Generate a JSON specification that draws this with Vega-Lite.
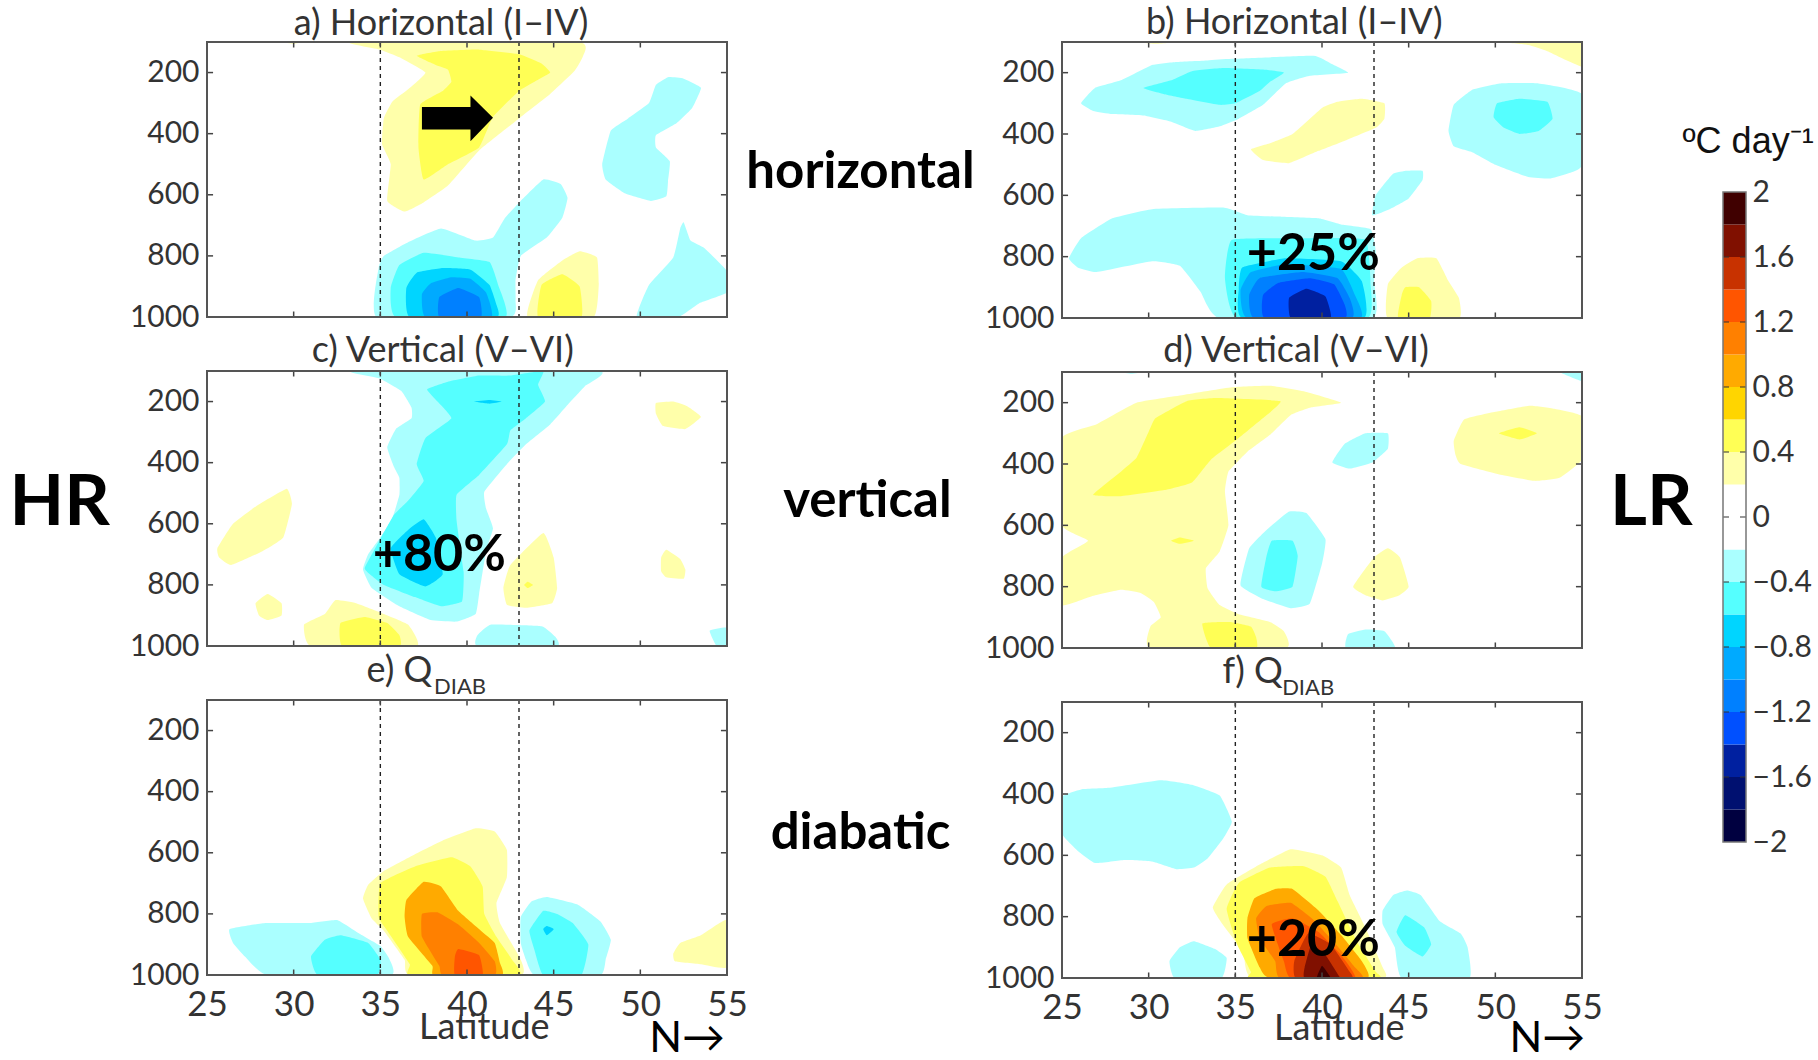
{"$schema":"https://vega.github.io/schema/vega-lite/v6.json","padding":0,"background":"white",
"config":{"view":{"stroke":null},"axis":{"domain":false,"ticks":false,"grid":false,"labelFont":"Lato","labelColor":"#333","labelFontSize":30,"labelPadding":8},"text":{"font":"Lato"}},
"datasets":{
"ticks":[{"lat":25,"lat2":25.35,"p":200,"p2":200},{"lat":25,"lat2":25.35,"p":400,"p2":400},{"lat":25,"lat2":25.35,"p":600,"p2":600},{"lat":25,"lat2":25.35,"p":800,"p2":800},{"lat":55,"lat2":54.65,"p":200,"p2":200},{"lat":55,"lat2":54.65,"p":400,"p2":400},{"lat":55,"lat2":54.65,"p":600,"p2":600},{"lat":55,"lat2":54.65,"p":800,"p2":800},{"lat":30,"lat2":30,"p":100,"p2":118},{"lat":35,"lat2":35,"p":100,"p2":118},{"lat":40,"lat2":40,"p":100,"p2":118},{"lat":45,"lat2":45,"p":100,"p2":118},{"lat":50,"lat2":50,"p":100,"p2":118},{"lat":30,"lat2":30,"p":1000,"p2":982},{"lat":35,"lat2":35,"p":1000,"p2":982},{"lat":40,"lat2":40,"p":1000,"p2":982},{"lat":45,"lat2":45,"p":1000,"p2":982},{"lat":50,"lat2":50,"p":1000,"p2":982}],
"dash":[{"lat":35,"lat2":35,"p":100,"p2":1000},{"lat":43,"lat2":43,"p":100,"p2":1000}],
"box":[{"lat":25,"lat2":55,"p":100,"p2":1000}],
"bar":[{"v":-1.8,"lo":-2,"hi":-1.8},{"v":-1.6,"lo":-1.8,"hi":-1.6},{"v":-1.4,"lo":-1.6,"hi":-1.4},{"v":-1.2,"lo":-1.4,"hi":-1.2},{"v":-1,"lo":-1.2,"hi":-1},{"v":-0.8,"lo":-1,"hi":-0.8},{"v":-0.6,"lo":-0.8,"hi":-0.6},{"v":-0.4,"lo":-0.6,"hi":-0.4},{"v":-0.2,"lo":-0.4,"hi":-0.2},{"v":0,"lo":-0.2,"hi":0.2},{"v":0.2,"lo":0.2,"hi":0.4},{"v":0.4,"lo":0.4,"hi":0.6},{"v":0.6,"lo":0.6,"hi":0.8},{"v":0.8,"lo":0.8,"hi":1},{"v":1,"lo":1,"hi":1.2},{"v":1.2,"lo":1.2,"hi":1.4},{"v":1.4,"lo":1.4,"hi":1.6},{"v":1.6,"lo":1.6,"hi":1.8},{"v":1.8,"lo":1.8,"hi":2}],
"bart":[{"t":-1.6},{"t":-1.2},{"t":-0.8},{"t":-0.4},{"t":0},{"t":0.4},{"t":0.8},{"t":1.2},{"t":1.6}],
"arrow":[{"lat":37.4,"p":313},{"lat":40.2,"p":313},{"lat":40.2,"p":275},{"lat":41.5,"p":348},{"lat":40.2,"p":425},{"lat":40.2,"p":386},{"lat":37.4,"p":386}],
"a":[
{"g":"a0","v":0.2,"lat":29.3,"p":100},{"g":"a0","v":0.2,"lat":30,"p":106},{"g":"a0","v":0.2,"lat":30.5,"p":100},
{"g":"a1","v":0.2,"lat":33.3,"p":100},{"g":"a1","v":0.2,"lat":35,"p":125},{"g":"a1","v":0.2,"lat":36.1,"p":150},{"g":"a1","v":0.2,"lat":37.6,"p":200},{"g":"a1","v":0.2,"lat":36.6,"p":255},{"g":"a1","v":0.2,"lat":35.7,"p":295},{"g":"a1","v":0.2,"lat":35.2,"p":350},{"g":"a1","v":0.2,"lat":35.1,"p":435},{"g":"a1","v":0.2,"lat":35.6,"p":500},{"g":"a1","v":0.2,"lat":35.4,"p":620},{"g":"a1","v":0.2,"lat":36.4,"p":655},{"g":"a1","v":0.2,"lat":37.5,"p":625},{"g":"a1","v":0.2,"lat":38.9,"p":570},{"g":"a1","v":0.2,"lat":40.7,"p":455},{"g":"a1","v":0.2,"lat":43,"p":350},{"g":"a1","v":0.2,"lat":44.8,"p":270},{"g":"a1","v":0.2,"lat":46.2,"p":195},{"g":"a1","v":0.2,"lat":46.7,"p":145},{"g":"a1","v":0.2,"lat":46.4,"p":100},
{"g":"a2","v":0.4,"lat":37.1,"p":145},{"g":"a2","v":0.4,"lat":38.4,"p":130},{"g":"a2","v":0.4,"lat":40.7,"p":125},{"g":"a2","v":0.4,"lat":43,"p":140},{"g":"a2","v":0.4,"lat":44.3,"p":170},{"g":"a2","v":0.4,"lat":44.8,"p":200},{"g":"a2","v":0.4,"lat":43.9,"p":230},{"g":"a2","v":0.4,"lat":43,"p":260},{"g":"a2","v":0.4,"lat":41.5,"p":345},{"g":"a2","v":0.4,"lat":40.7,"p":445},{"g":"a2","v":0.4,"lat":38.9,"p":500},{"g":"a2","v":0.4,"lat":37.5,"p":550},{"g":"a2","v":0.4,"lat":37.2,"p":445},{"g":"a2","v":0.4,"lat":37.3,"p":305},{"g":"a2","v":0.4,"lat":38.6,"p":260},{"g":"a2","v":0.4,"lat":39.1,"p":230},{"g":"a2","v":0.4,"lat":38.9,"p":190},{"g":"a2","v":0.4,"lat":38.2,"p":175},
{"g":"a3","v":-0.2,"lat":34.8,"p":1000},{"g":"a3","v":-0.2,"lat":34.9,"p":840},{"g":"a3","v":-0.2,"lat":35.2,"p":800},{"g":"a3","v":-0.2,"lat":36.6,"p":755},{"g":"a3","v":-0.2,"lat":38.5,"p":710},{"g":"a3","v":-0.2,"lat":40.5,"p":750},{"g":"a3","v":-0.2,"lat":41.5,"p":740},{"g":"a3","v":-0.2,"lat":42.2,"p":675},{"g":"a3","v":-0.2,"lat":43.1,"p":620},{"g":"a3","v":-0.2,"lat":44.4,"p":550},{"g":"a3","v":-0.2,"lat":45.4,"p":565},{"g":"a3","v":-0.2,"lat":45.8,"p":610},{"g":"a3","v":-0.2,"lat":45.5,"p":675},{"g":"a3","v":-0.2,"lat":44.6,"p":740},{"g":"a3","v":-0.2,"lat":43.1,"p":800},{"g":"a3","v":-0.2,"lat":42.8,"p":880},{"g":"a3","v":-0.2,"lat":42.8,"p":945},{"g":"a3","v":-0.2,"lat":42.5,"p":1000},
{"g":"a4","v":-0.4,"lat":35.9,"p":1000},{"g":"a4","v":-0.4,"lat":35.6,"p":905},{"g":"a4","v":-0.4,"lat":36.1,"p":830},{"g":"a4","v":-0.4,"lat":37.5,"p":790},{"g":"a4","v":-0.4,"lat":39.5,"p":805},{"g":"a4","v":-0.4,"lat":41.3,"p":820},{"g":"a4","v":-0.4,"lat":41.8,"p":895},{"g":"a4","v":-0.4,"lat":42.2,"p":1000},
{"g":"a5","v":-0.6,"lat":36.7,"p":1000},{"g":"a5","v":-0.6,"lat":36.5,"p":905},{"g":"a5","v":-0.6,"lat":37.1,"p":855},{"g":"a5","v":-0.6,"lat":38.6,"p":840},{"g":"a5","v":-0.6,"lat":40.2,"p":845},{"g":"a5","v":-0.6,"lat":41.3,"p":895},{"g":"a5","v":-0.6,"lat":41.7,"p":960},{"g":"a5","v":-0.6,"lat":41.7,"p":1000},
{"g":"a6","v":-0.8,"lat":37.6,"p":1000},{"g":"a6","v":-0.8,"lat":37.4,"p":925},{"g":"a6","v":-0.8,"lat":37.9,"p":890},{"g":"a6","v":-0.8,"lat":39.1,"p":870},{"g":"a6","v":-0.8,"lat":40.2,"p":875},{"g":"a6","v":-0.8,"lat":41.1,"p":920},{"g":"a6","v":-0.8,"lat":41.4,"p":1000},
{"g":"a7","v":-1,"lat":38.4,"p":1000},{"g":"a7","v":-1,"lat":38.4,"p":935},{"g":"a7","v":-1,"lat":39.5,"p":905},{"g":"a7","v":-1,"lat":40.7,"p":935},{"g":"a7","v":-1,"lat":40.8,"p":1000},
{"g":"a8","v":-0.2,"lat":51.6,"p":215},{"g":"a8","v":-0.2,"lat":52.5,"p":220},{"g":"a8","v":-0.2,"lat":53.5,"p":250},{"g":"a8","v":-0.2,"lat":53,"p":315},{"g":"a8","v":-0.2,"lat":52.1,"p":365},{"g":"a8","v":-0.2,"lat":50.9,"p":405},{"g":"a8","v":-0.2,"lat":50.9,"p":445},{"g":"a8","v":-0.2,"lat":51.7,"p":490},{"g":"a8","v":-0.2,"lat":51.6,"p":555},{"g":"a8","v":-0.2,"lat":51.5,"p":605},{"g":"a8","v":-0.2,"lat":50.6,"p":620},{"g":"a8","v":-0.2,"lat":49.1,"p":595},{"g":"a8","v":-0.2,"lat":48,"p":550},{"g":"a8","v":-0.2,"lat":47.8,"p":500},{"g":"a8","v":-0.2,"lat":48.3,"p":390},{"g":"a8","v":-0.2,"lat":49.3,"p":350},{"g":"a8","v":-0.2,"lat":50.5,"p":300},{"g":"a8","v":-0.2,"lat":50.9,"p":240},
{"g":"a9","v":-0.2,"lat":49.8,"p":1000},{"g":"a9","v":-0.2,"lat":50.5,"p":895},{"g":"a9","v":-0.2,"lat":51.9,"p":805},{"g":"a9","v":-0.2,"lat":52.3,"p":710},{"g":"a9","v":-0.2,"lat":52.5,"p":690},{"g":"a9","v":-0.2,"lat":52.9,"p":750},{"g":"a9","v":-0.2,"lat":53.7,"p":775},{"g":"a9","v":-0.2,"lat":55,"p":850},{"g":"a9","v":-0.2,"lat":55,"p":920},{"g":"a9","v":-0.2,"lat":53.4,"p":955},{"g":"a9","v":-0.2,"lat":52.2,"p":1000},
{"g":"a10","v":0.2,"lat":43.5,"p":1000},{"g":"a10","v":0.2,"lat":44.1,"p":880},{"g":"a10","v":0.2,"lat":45.5,"p":815},{"g":"a10","v":0.2,"lat":46.5,"p":785},{"g":"a10","v":0.2,"lat":47.5,"p":805},{"g":"a10","v":0.2,"lat":47.6,"p":895},{"g":"a10","v":0.2,"lat":47.3,"p":1000},
{"g":"a11","v":0.4,"lat":44.1,"p":1000},{"g":"a11","v":0.4,"lat":44.3,"p":895},{"g":"a11","v":0.4,"lat":45.5,"p":860},{"g":"a11","v":0.4,"lat":46.5,"p":900},{"g":"a11","v":0.4,"lat":46.6,"p":1000}
],
"b":[
{"g":"b0","v":0.2,"lat":29.3,"p":100},{"g":"b0","v":0.2,"lat":30.4,"p":106},{"g":"b0","v":0.2,"lat":31.6,"p":100},
{"g":"b1","v":-0.2,"lat":26.1,"p":300},{"g":"b1","v":-0.2,"lat":26.9,"p":250},{"g":"b1","v":-0.2,"lat":28.4,"p":225},{"g":"b1","v":-0.2,"lat":30.2,"p":175},{"g":"b1","v":-0.2,"lat":31.6,"p":165},{"g":"b1","v":-0.2,"lat":33.4,"p":160},{"g":"b1","v":-0.2,"lat":34.8,"p":155},{"g":"b1","v":-0.2,"lat":39.5,"p":145},{"g":"b1","v":-0.2,"lat":40.5,"p":170},{"g":"b1","v":-0.2,"lat":41.5,"p":200},{"g":"b1","v":-0.2,"lat":39.3,"p":210},{"g":"b1","v":-0.2,"lat":37.9,"p":235},{"g":"b1","v":-0.2,"lat":36.6,"p":305},{"g":"b1","v":-0.2,"lat":35.2,"p":350},{"g":"b1","v":-0.2,"lat":34.1,"p":375},{"g":"b1","v":-0.2,"lat":32.7,"p":390},{"g":"b1","v":-0.2,"lat":31.3,"p":360},{"g":"b1","v":-0.2,"lat":29.7,"p":340},{"g":"b1","v":-0.2,"lat":27.9,"p":335},{"g":"b1","v":-0.2,"lat":26.8,"p":325},
{"g":"b2","v":-0.4,"lat":29.7,"p":250},{"g":"b2","v":-0.4,"lat":31.3,"p":225},{"g":"b2","v":-0.4,"lat":32.5,"p":195},{"g":"b2","v":-0.4,"lat":34.3,"p":185},{"g":"b2","v":-0.4,"lat":36.6,"p":190},{"g":"b2","v":-0.4,"lat":37.8,"p":200},{"g":"b2","v":-0.4,"lat":37,"p":230},{"g":"b2","v":-0.4,"lat":36.4,"p":260},{"g":"b2","v":-0.4,"lat":35,"p":300},{"g":"b2","v":-0.4,"lat":34.1,"p":305},{"g":"b2","v":-0.4,"lat":32.2,"p":285},{"g":"b2","v":-0.4,"lat":30.9,"p":270},
{"g":"b3","v":0.2,"lat":35.9,"p":450},{"g":"b3","v":0.2,"lat":37,"p":430},{"g":"b3","v":0.2,"lat":38.3,"p":400},{"g":"b3","v":0.2,"lat":40,"p":315},{"g":"b3","v":0.2,"lat":40.9,"p":295},{"g":"b3","v":0.2,"lat":42.3,"p":285},{"g":"b3","v":0.2,"lat":43.6,"p":300},{"g":"b3","v":0.2,"lat":43.6,"p":350},{"g":"b3","v":0.2,"lat":43.1,"p":380},{"g":"b3","v":0.2,"lat":41.4,"p":420},{"g":"b3","v":0.2,"lat":39.8,"p":455},{"g":"b3","v":0.2,"lat":38.1,"p":495},{"g":"b3","v":0.2,"lat":36.6,"p":485},
{"g":"b4","v":0.2,"lat":50.5,"p":100},{"g":"b4","v":0.2,"lat":55,"p":100},{"g":"b4","v":0.2,"lat":55,"p":180},{"g":"b4","v":0.2,"lat":53,"p":130},{"g":"b4","v":0.2,"lat":51.9,"p":110},
{"g":"b5","v":-0.2,"lat":47.3,"p":390},{"g":"b5","v":-0.2,"lat":47.6,"p":305},{"g":"b5","v":-0.2,"lat":48.7,"p":255},{"g":"b5","v":-0.2,"lat":50.3,"p":235},{"g":"b5","v":-0.2,"lat":52.5,"p":235},{"g":"b5","v":-0.2,"lat":55,"p":270},{"g":"b5","v":-0.2,"lat":55,"p":500},{"g":"b5","v":-0.2,"lat":54.4,"p":525},{"g":"b5","v":-0.2,"lat":53.2,"p":545},{"g":"b5","v":-0.2,"lat":51.9,"p":540},{"g":"b5","v":-0.2,"lat":50,"p":500},{"g":"b5","v":-0.2,"lat":48.7,"p":460},{"g":"b5","v":-0.2,"lat":47.6,"p":440},
{"g":"b6","v":-0.4,"lat":49.9,"p":345},{"g":"b6","v":-0.4,"lat":50.1,"p":300},{"g":"b6","v":-0.4,"lat":51.4,"p":285},{"g":"b6","v":-0.4,"lat":53,"p":295},{"g":"b6","v":-0.4,"lat":53.3,"p":350},{"g":"b6","v":-0.4,"lat":52.5,"p":390},{"g":"b6","v":-0.4,"lat":51.4,"p":400},{"g":"b6","v":-0.4,"lat":50.5,"p":380},
{"g":"b7","v":-0.2,"lat":42.9,"p":665},{"g":"b7","v":-0.2,"lat":43.1,"p":600},{"g":"b7","v":-0.2,"lat":44.1,"p":530},{"g":"b7","v":-0.2,"lat":44.9,"p":520},{"g":"b7","v":-0.2,"lat":45.8,"p":520},{"g":"b7","v":-0.2,"lat":45.8,"p":550},{"g":"b7","v":-0.2,"lat":45,"p":610},{"g":"b7","v":-0.2,"lat":43.9,"p":645},
{"g":"b8","v":-0.2,"lat":25.4,"p":805},{"g":"b8","v":-0.2,"lat":26.1,"p":740},{"g":"b8","v":-0.2,"lat":27.9,"p":675},{"g":"b8","v":-0.2,"lat":30.2,"p":645},{"g":"b8","v":-0.2,"lat":34.3,"p":640},{"g":"b8","v":-0.2,"lat":35.7,"p":665},{"g":"b8","v":-0.2,"lat":37.7,"p":670},{"g":"b8","v":-0.2,"lat":39.8,"p":675},{"g":"b8","v":-0.2,"lat":41.1,"p":695},{"g":"b8","v":-0.2,"lat":42.8,"p":710},{"g":"b8","v":-0.2,"lat":43.1,"p":780},{"g":"b8","v":-0.2,"lat":43,"p":880},{"g":"b8","v":-0.2,"lat":42.9,"p":1000},{"g":"b8","v":-0.2,"lat":34.1,"p":1000},{"g":"b8","v":-0.2,"lat":33,"p":915},{"g":"b8","v":-0.2,"lat":31.8,"p":830},{"g":"b8","v":-0.2,"lat":30.2,"p":815},{"g":"b8","v":-0.2,"lat":27,"p":850},{"g":"b8","v":-0.2,"lat":25.9,"p":835},
{"g":"b9","v":-0.4,"lat":35.1,"p":1000},{"g":"b9","v":-0.4,"lat":34.4,"p":870},{"g":"b9","v":-0.4,"lat":34.8,"p":745},{"g":"b9","v":-0.4,"lat":38.9,"p":740},{"g":"b9","v":-0.4,"lat":42.5,"p":745},{"g":"b9","v":-0.4,"lat":42.8,"p":890},{"g":"b9","v":-0.4,"lat":42.6,"p":1000},
{"g":"b10","v":-0.6,"lat":35.4,"p":1000},{"g":"b10","v":-0.6,"lat":35.2,"p":905},{"g":"b10","v":-0.6,"lat":35.4,"p":835},{"g":"b10","v":-0.6,"lat":37.9,"p":805},{"g":"b10","v":-0.6,"lat":41.1,"p":815},{"g":"b10","v":-0.6,"lat":42.3,"p":880},{"g":"b10","v":-0.6,"lat":42.4,"p":1000},
{"g":"b11","v":-0.8,"lat":35.7,"p":1000},{"g":"b11","v":-0.8,"lat":35.3,"p":910},{"g":"b11","v":-0.8,"lat":35.9,"p":850},{"g":"b11","v":-0.8,"lat":37.9,"p":825},{"g":"b11","v":-0.8,"lat":41.1,"p":840},{"g":"b11","v":-0.8,"lat":41.9,"p":925},{"g":"b11","v":-0.8,"lat":42.2,"p":1000},
{"g":"b12","v":-1,"lat":36.1,"p":1000},{"g":"b12","v":-1,"lat":35.8,"p":925},{"g":"b12","v":-1,"lat":36.4,"p":870},{"g":"b12","v":-1,"lat":38.9,"p":850},{"g":"b12","v":-1,"lat":40.9,"p":870},{"g":"b12","v":-1,"lat":41.6,"p":935},{"g":"b12","v":-1,"lat":41.7,"p":1000},
{"g":"b13","v":-1.2,"lat":36.7,"p":1000},{"g":"b13","v":-1.2,"lat":36.6,"p":925},{"g":"b13","v":-1.2,"lat":37.5,"p":885},{"g":"b13","v":-1.2,"lat":39.3,"p":870},{"g":"b13","v":-1.2,"lat":40.7,"p":890},{"g":"b13","v":-1.2,"lat":41.3,"p":955},{"g":"b13","v":-1.2,"lat":41.3,"p":1000},
{"g":"b14","v":-1.4,"lat":38.2,"p":1000},{"g":"b14","v":-1.4,"lat":38.1,"p":935},{"g":"b14","v":-1.4,"lat":39.1,"p":905},{"g":"b14","v":-1.4,"lat":40.2,"p":930},{"g":"b14","v":-1.4,"lat":40.5,"p":1000},
{"g":"b15","v":0.2,"lat":43.8,"p":1000},{"g":"b15","v":0.2,"lat":43.8,"p":890},{"g":"b15","v":0.2,"lat":44.6,"p":835},{"g":"b15","v":0.2,"lat":45.5,"p":805},{"g":"b15","v":0.2,"lat":46.6,"p":805},{"g":"b15","v":0.2,"lat":47.3,"p":880},{"g":"b15","v":0.2,"lat":47.9,"p":935},{"g":"b15","v":0.2,"lat":47.9,"p":1000},
{"g":"b16","v":0.4,"lat":44.4,"p":1000},{"g":"b16","v":0.4,"lat":44.6,"p":925},{"g":"b16","v":0.4,"lat":44.8,"p":900},{"g":"b16","v":0.4,"lat":45.6,"p":900},{"g":"b16","v":0.4,"lat":46.3,"p":945},{"g":"b16","v":0.4,"lat":46.2,"p":1000}
],
"c":[
{"g":"c1","v":-0.2,"lat":33.4,"p":100},{"g":"c1","v":-0.2,"lat":35,"p":125},{"g":"c1","v":-0.2,"lat":36.2,"p":165},{"g":"c1","v":-0.2,"lat":36.8,"p":220},{"g":"c1","v":-0.2,"lat":36.8,"p":255},{"g":"c1","v":-0.2,"lat":35.9,"p":290},{"g":"c1","v":-0.2,"lat":35.4,"p":350},{"g":"c1","v":-0.2,"lat":35.8,"p":415},{"g":"c1","v":-0.2,"lat":36.1,"p":450},{"g":"c1","v":-0.2,"lat":36.1,"p":505},{"g":"c1","v":-0.2,"lat":35.7,"p":580},{"g":"c1","v":-0.2,"lat":35,"p":645},{"g":"c1","v":-0.2,"lat":34.3,"p":700},{"g":"c1","v":-0.2,"lat":34,"p":750},{"g":"c1","v":-0.2,"lat":34.5,"p":810},{"g":"c1","v":-0.2,"lat":36.1,"p":870},{"g":"c1","v":-0.2,"lat":37.9,"p":915},{"g":"c1","v":-0.2,"lat":39.4,"p":920},{"g":"c1","v":-0.2,"lat":40.5,"p":895},{"g":"c1","v":-0.2,"lat":40.7,"p":830},{"g":"c1","v":-0.2,"lat":41.1,"p":690},{"g":"c1","v":-0.2,"lat":41.5,"p":615},{"g":"c1","v":-0.2,"lat":41.1,"p":550},{"g":"c1","v":-0.2,"lat":41,"p":495},{"g":"c1","v":-0.2,"lat":42.3,"p":405},{"g":"c1","v":-0.2,"lat":43.4,"p":340},{"g":"c1","v":-0.2,"lat":44.8,"p":275},{"g":"c1","v":-0.2,"lat":45.9,"p":205},{"g":"c1","v":-0.2,"lat":46.8,"p":150},{"g":"c1","v":-0.2,"lat":47.6,"p":100},
{"g":"c2","v":-0.4,"lat":37.7,"p":160},{"g":"c2","v":-0.4,"lat":38.9,"p":135},{"g":"c2","v":-0.4,"lat":40.7,"p":115},{"g":"c2","v":-0.4,"lat":42.5,"p":115},{"g":"c2","v":-0.4,"lat":44.4,"p":100},{"g":"c2","v":-0.4,"lat":44.1,"p":145},{"g":"c2","v":-0.4,"lat":44.5,"p":200},{"g":"c2","v":-0.4,"lat":43.4,"p":255},{"g":"c2","v":-0.4,"lat":42.5,"p":295},{"g":"c2","v":-0.4,"lat":42.3,"p":340},{"g":"c2","v":-0.4,"lat":40.7,"p":440},{"g":"c2","v":-0.4,"lat":39.4,"p":505},{"g":"c2","v":-0.4,"lat":39.4,"p":590},{"g":"c2","v":-0.4,"lat":39.8,"p":755},{"g":"c2","v":-0.4,"lat":39.8,"p":800},{"g":"c2","v":-0.4,"lat":39.7,"p":855},{"g":"c2","v":-0.4,"lat":38.5,"p":870},{"g":"c2","v":-0.4,"lat":37,"p":840},{"g":"c2","v":-0.4,"lat":35.2,"p":800},{"g":"c2","v":-0.4,"lat":34.5,"p":770},{"g":"c2","v":-0.4,"lat":34.1,"p":745},{"g":"c2","v":-0.4,"lat":35,"p":650},{"g":"c2","v":-0.4,"lat":35.8,"p":570},{"g":"c2","v":-0.4,"lat":36.6,"p":525},{"g":"c2","v":-0.4,"lat":37.5,"p":460},{"g":"c2","v":-0.4,"lat":37.1,"p":405},{"g":"c2","v":-0.4,"lat":37.6,"p":320},{"g":"c2","v":-0.4,"lat":39.1,"p":255},{"g":"c2","v":-0.4,"lat":38.3,"p":200},
{"g":"c3","v":-0.6,"lat":35.6,"p":680},{"g":"c3","v":-0.6,"lat":36.6,"p":620},{"g":"c3","v":-0.6,"lat":37.5,"p":585},{"g":"c3","v":-0.6,"lat":38.2,"p":645},{"g":"c3","v":-0.6,"lat":38.6,"p":765},{"g":"c3","v":-0.6,"lat":37.6,"p":805},{"g":"c3","v":-0.6,"lat":36.1,"p":765},
{"g":"c4","v":-0.6,"lat":40.4,"p":200},{"g":"c4","v":-0.6,"lat":41.3,"p":195},{"g":"c4","v":-0.6,"lat":42,"p":200},{"g":"c4","v":-0.6,"lat":41.3,"p":207},
{"g":"c5","v":0.2,"lat":25.6,"p":680},{"g":"c5","v":0.2,"lat":26.5,"p":600},{"g":"c5","v":0.2,"lat":27.9,"p":540},{"g":"c5","v":0.2,"lat":29.6,"p":485},{"g":"c5","v":0.2,"lat":29.9,"p":535},{"g":"c5","v":0.2,"lat":29.4,"p":645},{"g":"c5","v":0.2,"lat":28.2,"p":690},{"g":"c5","v":0.2,"lat":26.4,"p":735},{"g":"c5","v":0.2,"lat":25.7,"p":710},
{"g":"c6","v":0.2,"lat":27.8,"p":860},{"g":"c6","v":0.2,"lat":28.5,"p":830},{"g":"c6","v":0.2,"lat":29.3,"p":860},{"g":"c6","v":0.2,"lat":29.3,"p":900},{"g":"c6","v":0.2,"lat":28.5,"p":915},{"g":"c6","v":0.2,"lat":28,"p":900},
{"g":"c7","v":0.2,"lat":31,"p":1000},{"g":"c7","v":0.2,"lat":30.6,"p":930},{"g":"c7","v":0.2,"lat":31.8,"p":895},{"g":"c7","v":0.2,"lat":32.4,"p":850},{"g":"c7","v":0.2,"lat":33.6,"p":860},{"g":"c7","v":0.2,"lat":35.2,"p":895},{"g":"c7","v":0.2,"lat":36.6,"p":930},{"g":"c7","v":0.2,"lat":37.1,"p":1000},
{"g":"c8","v":0.4,"lat":32.8,"p":1000},{"g":"c8","v":0.4,"lat":32.7,"p":925},{"g":"c8","v":0.4,"lat":34.1,"p":905},{"g":"c8","v":0.4,"lat":35.4,"p":925},{"g":"c8","v":0.4,"lat":36.1,"p":965},{"g":"c8","v":0.4,"lat":36.1,"p":1000},
{"g":"c9","v":0.2,"lat":42.1,"p":810},{"g":"c9","v":0.2,"lat":42.5,"p":735},{"g":"c9","v":0.2,"lat":44.4,"p":630},{"g":"c9","v":0.2,"lat":45,"p":710},{"g":"c9","v":0.2,"lat":45.2,"p":810},{"g":"c9","v":0.2,"lat":44.9,"p":860},{"g":"c9","v":0.2,"lat":43.4,"p":875},{"g":"c9","v":0.2,"lat":42.3,"p":865},
{"g":"c10","v":0.4,"lat":43.3,"p":800},{"g":"c10","v":0.4,"lat":43.5,"p":790},{"g":"c10","v":0.4,"lat":43.8,"p":800},{"g":"c10","v":0.4,"lat":43.5,"p":810},
{"g":"c11","v":0.2,"lat":50.9,"p":205},{"g":"c11","v":0.2,"lat":51.9,"p":200},{"g":"c11","v":0.2,"lat":52.7,"p":215},{"g":"c11","v":0.2,"lat":53.5,"p":250},{"g":"c11","v":0.2,"lat":52.6,"p":290},{"g":"c11","v":0.2,"lat":51.3,"p":280},{"g":"c11","v":0.2,"lat":50.9,"p":240},
{"g":"c12","v":0.2,"lat":51.2,"p":710},{"g":"c12","v":0.2,"lat":51.5,"p":685},{"g":"c12","v":0.2,"lat":52.3,"p":715},{"g":"c12","v":0.2,"lat":52.6,"p":750},{"g":"c12","v":0.2,"lat":52.5,"p":780},{"g":"c12","v":0.2,"lat":51.5,"p":775},{"g":"c12","v":0.2,"lat":51.2,"p":755},
{"g":"c13","v":-0.2,"lat":40.6,"p":1000},{"g":"c13","v":-0.2,"lat":40.6,"p":965},{"g":"c13","v":-0.2,"lat":41.4,"p":930},{"g":"c13","v":-0.2,"lat":44.3,"p":935},{"g":"c13","v":-0.2,"lat":45.1,"p":970},{"g":"c13","v":-0.2,"lat":45.2,"p":1000},
{"g":"c14","v":-0.2,"lat":54.4,"p":1000},{"g":"c14","v":-0.2,"lat":54,"p":950},{"g":"c14","v":-0.2,"lat":55,"p":940},{"g":"c14","v":-0.2,"lat":55,"p":1000}
],
"d":[
{"g":"d1","v":0.2,"lat":25,"p":315},{"g":"d1","v":0.2,"lat":27,"p":270},{"g":"d1","v":0.2,"lat":29.3,"p":200},{"g":"d1","v":0.2,"lat":32,"p":175},{"g":"d1","v":0.2,"lat":34.8,"p":150},{"g":"d1","v":0.2,"lat":37,"p":145},{"g":"d1","v":0.2,"lat":39.1,"p":165},{"g":"d1","v":0.2,"lat":41.1,"p":200},{"g":"d1","v":0.2,"lat":39.4,"p":215},{"g":"d1","v":0.2,"lat":38.2,"p":240},{"g":"d1","v":0.2,"lat":37,"p":305},{"g":"d1","v":0.2,"lat":35.7,"p":360},{"g":"d1","v":0.2,"lat":34.6,"p":425},{"g":"d1","v":0.2,"lat":34.4,"p":490},{"g":"d1","v":0.2,"lat":34.6,"p":600},{"g":"d1","v":0.2,"lat":34.1,"p":685},{"g":"d1","v":0.2,"lat":33.3,"p":740},{"g":"d1","v":0.2,"lat":33.4,"p":805},{"g":"d1","v":0.2,"lat":34.1,"p":860},{"g":"d1","v":0.2,"lat":35.2,"p":890},{"g":"d1","v":0.2,"lat":37,"p":915},{"g":"d1","v":0.2,"lat":37.8,"p":945},{"g":"d1","v":0.2,"lat":37.9,"p":1000},{"g":"d1","v":0.2,"lat":30.1,"p":1000},{"g":"d1","v":0.2,"lat":30.1,"p":930},{"g":"d1","v":0.2,"lat":30.7,"p":900},{"g":"d1","v":0.2,"lat":30.3,"p":850},{"g":"d1","v":0.2,"lat":29.5,"p":820},{"g":"d1","v":0.2,"lat":28.4,"p":810},{"g":"d1","v":0.2,"lat":26.8,"p":830},{"g":"d1","v":0.2,"lat":25,"p":860},{"g":"d1","v":0.2,"lat":25,"p":705},{"g":"d1","v":0.2,"lat":26.5,"p":650},{"g":"d1","v":0.2,"lat":25,"p":600},
{"g":"d2","v":0.4,"lat":26.8,"p":500},{"g":"d2","v":0.4,"lat":28.4,"p":425},{"g":"d2","v":0.4,"lat":29.3,"p":380},{"g":"d2","v":0.4,"lat":30,"p":295},{"g":"d2","v":0.4,"lat":30.4,"p":250},{"g":"d2","v":0.4,"lat":32.2,"p":195},{"g":"d2","v":0.4,"lat":33.9,"p":185},{"g":"d2","v":0.4,"lat":37.6,"p":195},{"g":"d2","v":0.4,"lat":36.6,"p":250},{"g":"d2","v":0.4,"lat":35.2,"p":315},{"g":"d2","v":0.4,"lat":33.6,"p":385},{"g":"d2","v":0.4,"lat":32.5,"p":460},{"g":"d2","v":0.4,"lat":30.9,"p":485},{"g":"d2","v":0.4,"lat":28.4,"p":505},
{"g":"d3","v":0.4,"lat":31.3,"p":650},{"g":"d3","v":0.4,"lat":31.8,"p":640},{"g":"d3","v":0.4,"lat":32.6,"p":650},{"g":"d3","v":0.4,"lat":31.8,"p":660},
{"g":"d4","v":0.4,"lat":33.1,"p":920},{"g":"d4","v":0.4,"lat":34.7,"p":915},{"g":"d4","v":0.4,"lat":35.9,"p":930},{"g":"d4","v":0.4,"lat":36.2,"p":965},{"g":"d4","v":0.4,"lat":36.2,"p":1000},{"g":"d4","v":0.4,"lat":33.6,"p":1000},
{"g":"d5","v":0.2,"lat":47.6,"p":325},{"g":"d5","v":0.2,"lat":48.2,"p":255},{"g":"d5","v":0.2,"lat":50,"p":230},{"g":"d5","v":0.2,"lat":52,"p":210},{"g":"d5","v":0.2,"lat":53.4,"p":220},{"g":"d5","v":0.2,"lat":55,"p":245},{"g":"d5","v":0.2,"lat":55,"p":385},{"g":"d5","v":0.2,"lat":53.7,"p":445},{"g":"d5","v":0.2,"lat":52.3,"p":455},{"g":"d5","v":0.2,"lat":50.3,"p":435},{"g":"d5","v":0.2,"lat":48,"p":400},{"g":"d5","v":0.2,"lat":47.7,"p":370},
{"g":"d6","v":0.4,"lat":50.2,"p":300},{"g":"d6","v":0.4,"lat":51.4,"p":280},{"g":"d6","v":0.4,"lat":52.4,"p":300},{"g":"d6","v":0.4,"lat":51.4,"p":320},
{"g":"d7","v":0.2,"lat":41.8,"p":800},{"g":"d7","v":0.2,"lat":43,"p":705},{"g":"d7","v":0.2,"lat":43.8,"p":675},{"g":"d7","v":0.2,"lat":44.5,"p":705},{"g":"d7","v":0.2,"lat":45,"p":800},{"g":"d7","v":0.2,"lat":44.4,"p":830},{"g":"d7","v":0.2,"lat":43.5,"p":845},{"g":"d7","v":0.2,"lat":42.6,"p":830},
{"g":"d8","v":-0.2,"lat":40.6,"p":395},{"g":"d8","v":-0.2,"lat":41.3,"p":335},{"g":"d8","v":-0.2,"lat":42.5,"p":300},{"g":"d8","v":-0.2,"lat":43.8,"p":300},{"g":"d8","v":-0.2,"lat":43.8,"p":350},{"g":"d8","v":-0.2,"lat":42.9,"p":395},{"g":"d8","v":-0.2,"lat":41.6,"p":415},
{"g":"d9","v":-0.2,"lat":35.3,"p":795},{"g":"d9","v":-0.2,"lat":35.8,"p":675},{"g":"d9","v":-0.2,"lat":36.8,"p":615},{"g":"d9","v":-0.2,"lat":38.1,"p":555},{"g":"d9","v":-0.2,"lat":39.1,"p":560},{"g":"d9","v":-0.2,"lat":40.2,"p":645},{"g":"d9","v":-0.2,"lat":40,"p":725},{"g":"d9","v":-0.2,"lat":39.3,"p":855},{"g":"d9","v":-0.2,"lat":38.2,"p":870},{"g":"d9","v":-0.2,"lat":36.6,"p":840},
{"g":"d10","v":-0.4,"lat":36.8,"p":700},{"g":"d10","v":-0.4,"lat":37.1,"p":650},{"g":"d10","v":-0.4,"lat":38.3,"p":650},{"g":"d10","v":-0.4,"lat":38.6,"p":700},{"g":"d10","v":-0.4,"lat":38.3,"p":800},{"g":"d10","v":-0.4,"lat":37.3,"p":815},{"g":"d10","v":-0.4,"lat":36.5,"p":800},
{"g":"d11","v":-0.2,"lat":41.4,"p":1000},{"g":"d11","v":-0.2,"lat":41.5,"p":955},{"g":"d11","v":-0.2,"lat":42.5,"p":940},{"g":"d11","v":-0.2,"lat":43.6,"p":945},{"g":"d11","v":-0.2,"lat":44.2,"p":1000},
{"g":"d12","v":-0.2,"lat":53.7,"p":100},{"g":"d12","v":-0.2,"lat":55,"p":100},{"g":"d12","v":-0.2,"lat":55,"p":130},
{"g":"d13","v":-0.2,"lat":28.4,"p":100},{"g":"d13","v":-0.2,"lat":29,"p":106},{"g":"d13","v":-0.2,"lat":29.7,"p":100}
],
"e":[
{"g":"e1","v":-0.2,"lat":26.3,"p":850},{"g":"e1","v":-0.2,"lat":28.4,"p":830},{"g":"e1","v":-0.2,"lat":30.9,"p":830},{"g":"e1","v":-0.2,"lat":32.5,"p":820},{"g":"e1","v":-0.2,"lat":33.8,"p":865},{"g":"e1","v":-0.2,"lat":35,"p":905},{"g":"e1","v":-0.2,"lat":35.5,"p":945},{"g":"e1","v":-0.2,"lat":35.6,"p":1000},{"g":"e1","v":-0.2,"lat":28.5,"p":1000},{"g":"e1","v":-0.2,"lat":27.2,"p":940},{"g":"e1","v":-0.2,"lat":26.5,"p":895},
{"g":"e2","v":-0.4,"lat":31.4,"p":1000},{"g":"e2","v":-0.4,"lat":31,"p":940},{"g":"e2","v":-0.4,"lat":31.8,"p":885},{"g":"e2","v":-0.4,"lat":32.7,"p":870},{"g":"e2","v":-0.4,"lat":34.3,"p":895},{"g":"e2","v":-0.4,"lat":35,"p":950},{"g":"e2","v":-0.4,"lat":34.8,"p":1000},
{"g":"e3","v":-0.2,"lat":43.1,"p":810},{"g":"e3","v":-0.2,"lat":43.7,"p":760},{"g":"e3","v":-0.2,"lat":44.6,"p":745},{"g":"e3","v":-0.2,"lat":46.4,"p":770},{"g":"e3","v":-0.2,"lat":47.7,"p":825},{"g":"e3","v":-0.2,"lat":48.3,"p":885},{"g":"e3","v":-0.2,"lat":48,"p":950},{"g":"e3","v":-0.2,"lat":47.7,"p":1000},{"g":"e3","v":-0.2,"lat":43.9,"p":1000},{"g":"e3","v":-0.2,"lat":43.4,"p":950},{"g":"e3","v":-0.2,"lat":43.1,"p":895},
{"g":"e4","v":-0.4,"lat":43.6,"p":855},{"g":"e4","v":-0.4,"lat":44.4,"p":790},{"g":"e4","v":-0.4,"lat":45.2,"p":800},{"g":"e4","v":-0.4,"lat":46.1,"p":830},{"g":"e4","v":-0.4,"lat":47,"p":900},{"g":"e4","v":-0.4,"lat":46.6,"p":1000},{"g":"e4","v":-0.4,"lat":44.4,"p":1000},{"g":"e4","v":-0.4,"lat":43.9,"p":920},
{"g":"e5","v":-0.6,"lat":44.4,"p":850},{"g":"e5","v":-0.6,"lat":44.6,"p":840},{"g":"e5","v":-0.6,"lat":45,"p":850},{"g":"e5","v":-0.6,"lat":44.6,"p":870},
{"g":"e6","v":0.2,"lat":51.9,"p":930},{"g":"e6","v":0.2,"lat":52.3,"p":895},{"g":"e6","v":0.2,"lat":53.5,"p":870},{"g":"e6","v":0.2,"lat":55,"p":820},{"g":"e6","v":0.2,"lat":55,"p":975},{"g":"e6","v":0.2,"lat":53.5,"p":965},{"g":"e6","v":0.2,"lat":52,"p":955},
{"g":"e7","v":0.2,"lat":34,"p":750},{"g":"e7","v":0.2,"lat":34.3,"p":705},{"g":"e7","v":0.2,"lat":35.2,"p":660},{"g":"e7","v":0.2,"lat":37,"p":605},{"g":"e7","v":0.2,"lat":38.6,"p":560},{"g":"e7","v":0.2,"lat":40.5,"p":520},{"g":"e7","v":0.2,"lat":41.6,"p":530},{"g":"e7","v":0.2,"lat":42.3,"p":590},{"g":"e7","v":0.2,"lat":42.3,"p":680},{"g":"e7","v":0.2,"lat":41.7,"p":765},{"g":"e7","v":0.2,"lat":41.9,"p":830},{"g":"e7","v":0.2,"lat":43.1,"p":950},{"g":"e7","v":0.2,"lat":43.1,"p":1000},{"g":"e7","v":0.2,"lat":36.7,"p":1000},{"g":"e7","v":0.2,"lat":36.4,"p":950},{"g":"e7","v":0.2,"lat":35.2,"p":855},{"g":"e7","v":0.2,"lat":34.5,"p":815},
{"g":"e8","v":0.4,"lat":35,"p":700},{"g":"e8","v":0.4,"lat":37,"p":645},{"g":"e8","v":0.4,"lat":39.1,"p":615},{"g":"e8","v":0.4,"lat":40.2,"p":645},{"g":"e8","v":0.4,"lat":40.9,"p":710},{"g":"e8","v":0.4,"lat":41,"p":800},{"g":"e8","v":0.4,"lat":41.7,"p":875},{"g":"e8","v":0.4,"lat":42.6,"p":950},{"g":"e8","v":0.4,"lat":43,"p":1000},{"g":"e8","v":0.4,"lat":36.7,"p":1000},{"g":"e8","v":0.4,"lat":36.7,"p":965},{"g":"e8","v":0.4,"lat":35.4,"p":855},{"g":"e8","v":0.4,"lat":34.9,"p":810},
{"g":"e9","v":0.8,"lat":36.5,"p":755},{"g":"e9","v":0.8,"lat":37.5,"p":695},{"g":"e9","v":0.8,"lat":38.5,"p":710},{"g":"e9","v":0.8,"lat":39.5,"p":790},{"g":"e9","v":0.8,"lat":40.8,"p":855},{"g":"e9","v":0.8,"lat":41.6,"p":895},{"g":"e9","v":0.8,"lat":41.9,"p":960},{"g":"e9","v":0.8,"lat":42,"p":1000},{"g":"e9","v":0.8,"lat":38.1,"p":1000},{"g":"e9","v":0.8,"lat":38,"p":970},{"g":"e9","v":0.8,"lat":36.6,"p":875},{"g":"e9","v":0.8,"lat":36.4,"p":810},
{"g":"e10","v":1,"lat":37.4,"p":800},{"g":"e10","v":1,"lat":38.3,"p":795},{"g":"e10","v":1,"lat":39.5,"p":835},{"g":"e10","v":1,"lat":40.7,"p":895},{"g":"e10","v":1,"lat":41.6,"p":955},{"g":"e10","v":1,"lat":41.6,"p":1000},{"g":"e10","v":1,"lat":38.6,"p":1000},{"g":"e10","v":1,"lat":38.4,"p":970},{"g":"e10","v":1,"lat":37.4,"p":875},
{"g":"e11","v":1.2,"lat":39.3,"p":1000},{"g":"e11","v":1.2,"lat":39.3,"p":940},{"g":"e11","v":1.2,"lat":39.5,"p":915},{"g":"e11","v":1.2,"lat":40.7,"p":935},{"g":"e11","v":1.2,"lat":40.9,"p":1000}
],
"f":[
{"g":"f1","v":-0.2,"lat":25,"p":410},{"g":"f1","v":-0.2,"lat":26.1,"p":385},{"g":"f1","v":-0.2,"lat":27.7,"p":380},{"g":"f1","v":-0.2,"lat":30.7,"p":355},{"g":"f1","v":-0.2,"lat":32.5,"p":370},{"g":"f1","v":-0.2,"lat":34.1,"p":405},{"g":"f1","v":-0.2,"lat":34.8,"p":490},{"g":"f1","v":-0.2,"lat":34.3,"p":545},{"g":"f1","v":-0.2,"lat":33.4,"p":610},{"g":"f1","v":-0.2,"lat":32.6,"p":640},{"g":"f1","v":-0.2,"lat":31.6,"p":645},{"g":"f1","v":-0.2,"lat":30.2,"p":620},{"g":"f1","v":-0.2,"lat":28.6,"p":615},{"g":"f1","v":-0.2,"lat":26.9,"p":625},{"g":"f1","v":-0.2,"lat":25.9,"p":585},{"g":"f1","v":-0.2,"lat":25,"p":530},
{"g":"f2","v":-0.2,"lat":31.2,"p":945},{"g":"f2","v":-0.2,"lat":31.8,"p":900},{"g":"f2","v":-0.2,"lat":32.6,"p":880},{"g":"f2","v":-0.2,"lat":33.8,"p":905},{"g":"f2","v":-0.2,"lat":34.5,"p":935},{"g":"f2","v":-0.2,"lat":34.2,"p":1000},{"g":"f2","v":-0.2,"lat":31.5,"p":1000},
{"g":"f3","v":-0.2,"lat":44.6,"p":1000},{"g":"f3","v":-0.2,"lat":44.2,"p":900},{"g":"f3","v":-0.2,"lat":43.5,"p":825},{"g":"f3","v":-0.2,"lat":43.5,"p":780},{"g":"f3","v":-0.2,"lat":44.1,"p":730},{"g":"f3","v":-0.2,"lat":44.9,"p":715},{"g":"f3","v":-0.2,"lat":45.7,"p":730},{"g":"f3","v":-0.2,"lat":46.8,"p":815},{"g":"f3","v":-0.2,"lat":48,"p":855},{"g":"f3","v":-0.2,"lat":48.4,"p":900},{"g":"f3","v":-0.2,"lat":48.5,"p":1000},
{"g":"f4","v":-0.4,"lat":44.3,"p":850},{"g":"f4","v":-0.4,"lat":44.8,"p":795},{"g":"f4","v":-0.4,"lat":45.9,"p":835},{"g":"f4","v":-0.4,"lat":46.3,"p":890},{"g":"f4","v":-0.4,"lat":45.8,"p":930},{"g":"f4","v":-0.4,"lat":44.8,"p":895},
{"g":"f5","v":0.2,"lat":33.7,"p":770},{"g":"f5","v":0.2,"lat":34.5,"p":695},{"g":"f5","v":0.2,"lat":36.4,"p":630},{"g":"f5","v":0.2,"lat":38.2,"p":580},{"g":"f5","v":0.2,"lat":40,"p":600},{"g":"f5","v":0.2,"lat":41.1,"p":640},{"g":"f5","v":0.2,"lat":41.6,"p":730},{"g":"f5","v":0.2,"lat":42.5,"p":835},{"g":"f5","v":0.2,"lat":43.5,"p":965},{"g":"f5","v":0.2,"lat":43.5,"p":1000},{"g":"f5","v":0.2,"lat":36,"p":1000},{"g":"f5","v":0.2,"lat":35.5,"p":930},{"g":"f5","v":0.2,"lat":35,"p":880},{"g":"f5","v":0.2,"lat":34.2,"p":820},
{"g":"f6","v":0.4,"lat":34.5,"p":775},{"g":"f6","v":0.4,"lat":35.2,"p":690},{"g":"f6","v":0.4,"lat":37,"p":640},{"g":"f6","v":0.4,"lat":38.9,"p":635},{"g":"f6","v":0.4,"lat":40.2,"p":670},{"g":"f6","v":0.4,"lat":40.9,"p":750},{"g":"f6","v":0.4,"lat":42,"p":880},{"g":"f6","v":0.4,"lat":43.1,"p":980},{"g":"f6","v":0.4,"lat":43.2,"p":1000},{"g":"f6","v":0.4,"lat":35.9,"p":1000},{"g":"f6","v":0.4,"lat":35.9,"p":980},{"g":"f6","v":0.4,"lat":35.1,"p":890},
{"g":"f7","v":0.8,"lat":35.7,"p":805},{"g":"f7","v":0.8,"lat":36.1,"p":740},{"g":"f7","v":0.8,"lat":37.3,"p":710},{"g":"f7","v":0.8,"lat":38.3,"p":710},{"g":"f7","v":0.8,"lat":39.8,"p":780},{"g":"f7","v":0.8,"lat":41.1,"p":860},{"g":"f7","v":0.8,"lat":42.3,"p":945},{"g":"f7","v":0.8,"lat":42.6,"p":1000},{"g":"f7","v":0.8,"lat":37,"p":1000},{"g":"f7","v":0.8,"lat":36.4,"p":965},{"g":"f7","v":0.8,"lat":35.7,"p":870},
{"g":"f8","v":1,"lat":36.2,"p":805},{"g":"f8","v":1,"lat":36.8,"p":765},{"g":"f8","v":1,"lat":38.2,"p":755},{"g":"f8","v":1,"lat":39.5,"p":810},{"g":"f8","v":1,"lat":40.8,"p":890},{"g":"f8","v":1,"lat":41.9,"p":965},{"g":"f8","v":1,"lat":42.3,"p":1000},{"g":"f8","v":1,"lat":37.6,"p":1000},{"g":"f8","v":1,"lat":37.3,"p":945},{"g":"f8","v":1,"lat":36.4,"p":870},
{"g":"f9","v":1.2,"lat":37.1,"p":825},{"g":"f9","v":1.2,"lat":38.3,"p":805},{"g":"f9","v":1.2,"lat":39.8,"p":850},{"g":"f9","v":1.2,"lat":41.1,"p":925},{"g":"f9","v":1.2,"lat":41.9,"p":1000},{"g":"f9","v":1.2,"lat":38.2,"p":1000},{"g":"f9","v":1.2,"lat":37.8,"p":945},
{"g":"f10","v":1.4,"lat":38.5,"p":1000},{"g":"f10","v":1.4,"lat":38.4,"p":945},{"g":"f10","v":1.4,"lat":39.2,"p":855},{"g":"f10","v":1.4,"lat":40.5,"p":890},{"g":"f10","v":1.4,"lat":41.6,"p":980},{"g":"f10","v":1.4,"lat":41.7,"p":1000},
{"g":"f11","v":1.6,"lat":39,"p":1000},{"g":"f11","v":1.6,"lat":39,"p":965},{"g":"f11","v":1.6,"lat":39.4,"p":890},{"g":"f11","v":1.6,"lat":40.2,"p":925},{"g":"f11","v":1.6,"lat":41,"p":995},{"g":"f11","v":1.6,"lat":41.1,"p":1000},
{"g":"f12","v":1.8,"lat":39.7,"p":1000},{"g":"f12","v":1.8,"lat":40,"p":960},{"g":"f12","v":1.8,"lat":40.5,"p":1000}
]
},
"hconcat":[
{"vconcat":[
{"width":520,"height":275,"encoding":{"x":{"field":"lat","type":"quantitative","title":null,"scale":{"domain":[25,55]},"axis":null},"y":{"field":"p","type":"quantitative","title":null,"scale":{"domain":[100,1000],"reverse":true},"axis":{"values":[200,400,600,800,1000],"format":"d"}}},
"layer":[
{"data":{"name":"a"},"mark":{"type":"line","filled":true,"clip":true,"interpolate":"cardinal-closed","tension":0.65},"encoding":{"detail":{"field":"g"},"order":{"value":null},"color":{"field":"v","type":"ordinal","legend":null,"scale":{"domain":[-1.8,-1.6,-1.4,-1.2,-1,-0.8,-0.6,-0.4,-0.2,0,0.2,0.4,0.6,0.8,1,1.2,1.4,1.6,1.8],"range":["#000040","#001070","#0020A0","#0050FF","#0080FF","#00AAFF","#00D5FF","#55FFFF","#AAFFFF","#FFFFFF","#FFFFAA","#FFFF55","#FFD500","#FFAA00","#FF8000","#FF5500","#C83200","#801000","#400000"]}}}},
{"data":{"name":"arrow"},"mark":{"type":"line","filled":true,"color":"#000"},"encoding":{"order":{"value":null}}},
{"data":{"name":"dash"},"mark":{"type":"rule","strokeDash":[4,4],"color":"#222","strokeWidth":1.4},"encoding":{"x2":{"field":"lat2"},"y2":{"field":"p2"}}},
{"data":{"name":"ticks"},"mark":{"type":"rule","color":"#444","strokeWidth":1.5},"encoding":{"x2":{"field":"lat2"},"y2":{"field":"p2"}}},
{"data":{"name":"box"},"mark":{"type":"rect","filled":false,"stroke":"#555","strokeWidth":2},"encoding":{"x2":{"field":"lat2"},"y2":{"field":"p2"}}},
{"data":{"values":[{"t":"a) Horizontal (I–IV)","lat":38.5,"p":41}]},"mark":{"type":"text","fontSize":36,"color":"#333"},"encoding":{"text":{"field":"t"}}},
{"data":{"values":[{"t":"horizontal","lat":62.7,"p":528}]},"mark":{"type":"text","fontSize":51,"fontWeight":"bold","color":"#000"},"encoding":{"text":{"field":"t"}}},
{"data":{"values":[{"lat":13.12,"p":-34}]},"mark":{"type":"point","size":1,"opacity":0}}
]},
{"width":520,"height":275,"encoding":{"x":{"field":"lat","type":"quantitative","title":null,"scale":{"domain":[25,55]},"axis":null},"y":{"field":"p","type":"quantitative","title":null,"scale":{"domain":[100,1000],"reverse":true},"axis":{"values":[200,400,600,800,1000],"format":"d"}}},
"layer":[
{"data":{"name":"c"},"mark":{"type":"line","filled":true,"clip":true,"interpolate":"cardinal-closed","tension":0.65},"encoding":{"detail":{"field":"g"},"order":{"value":null},"color":{"field":"v","type":"ordinal","legend":null,"scale":{"domain":[-1.8,-1.6,-1.4,-1.2,-1,-0.8,-0.6,-0.4,-0.2,0,0.2,0.4,0.6,0.8,1,1.2,1.4,1.6,1.8],"range":["#000040","#001070","#0020A0","#0050FF","#0080FF","#00AAFF","#00D5FF","#55FFFF","#AAFFFF","#FFFFFF","#FFFFAA","#FFFF55","#FFD500","#FFAA00","#FF8000","#FF5500","#C83200","#801000","#400000"]}}}},
{"data":{"name":"dash"},"mark":{"type":"rule","strokeDash":[4,4],"color":"#222","strokeWidth":1.4},"encoding":{"x2":{"field":"lat2"},"y2":{"field":"p2"}}},
{"data":{"name":"ticks"},"mark":{"type":"rule","color":"#444","strokeWidth":1.5},"encoding":{"x2":{"field":"lat2"},"y2":{"field":"p2"}}},
{"data":{"name":"box"},"mark":{"type":"rect","filled":false,"stroke":"#555","strokeWidth":2},"encoding":{"x2":{"field":"lat2"},"y2":{"field":"p2"}}},
{"data":{"values":[{"t":"c) Vertical (V–VI)","lat":38.6,"p":35}]},"mark":{"type":"text","fontSize":36,"color":"#333"},"encoding":{"text":{"field":"t"}}},
{"data":{"values":[{"t":"vertical","lat":63.1,"p":528}]},"mark":{"type":"text","fontSize":51,"fontWeight":"bold","color":"#000"},"encoding":{"text":{"field":"t"}}},
{"data":{"values":[{"t":"HR","lat":16.5,"p":534}]},"mark":{"type":"text","fontSize":71,"fontWeight":"bold","color":"#000"},"encoding":{"text":{"field":"t"}}},
{"data":{"values":[{"t":"+80%","lat":38.4,"p":701}]},"mark":{"type":"text","fontSize":52,"fontWeight":"bold","color":"#000"},"encoding":{"text":{"field":"t"}}}
]},
{"width":520,"height":275,"encoding":{"x":{"field":"lat","type":"quantitative","title":null,"scale":{"domain":[25,55]},"axis":{"values":[25,30,35,40,45,50,55],"format":"d","labelFontSize":35,"labelPadding":12,"labelFlush":false}},"y":{"field":"p","type":"quantitative","title":null,"scale":{"domain":[100,1000],"reverse":true},"axis":{"values":[200,400,600,800,1000],"format":"d"}}},
"layer":[
{"data":{"name":"e"},"mark":{"type":"line","filled":true,"clip":true,"interpolate":"cardinal-closed","tension":0.65},"encoding":{"detail":{"field":"g"},"order":{"value":null},"color":{"field":"v","type":"ordinal","legend":null,"scale":{"domain":[-1.8,-1.6,-1.4,-1.2,-1,-0.8,-0.6,-0.4,-0.2,0,0.2,0.4,0.6,0.8,1,1.2,1.4,1.6,1.8],"range":["#000040","#001070","#0020A0","#0050FF","#0080FF","#00AAFF","#00D5FF","#55FFFF","#AAFFFF","#FFFFFF","#FFFFAA","#FFFF55","#FFD500","#FFAA00","#FF8000","#FF5500","#C83200","#801000","#400000"]}}}},
{"data":{"name":"dash"},"mark":{"type":"rule","strokeDash":[4,4],"color":"#222","strokeWidth":1.4},"encoding":{"x2":{"field":"lat2"},"y2":{"field":"p2"}}},
{"data":{"name":"ticks"},"mark":{"type":"rule","color":"#444","strokeWidth":1.5},"encoding":{"x2":{"field":"lat2"},"y2":{"field":"p2"}}},
{"data":{"name":"box"},"mark":{"type":"rect","filled":false,"stroke":"#555","strokeWidth":2},"encoding":{"x2":{"field":"lat2"},"y2":{"field":"p2"}}},
{"data":{"values":[{"t":"e) Q","lat":36.1,"p":5},{"t":"Latitude","lat":41,"p":1173}]},"mark":{"type":"text","fontSize":36,"color":"#333"},"encoding":{"text":{"field":"t"}}},
{"data":{"values":[{"t":"DIAB","lat":39.6,"p":57}]},"mark":{"type":"text","fontSize":22,"color":"#333"},"encoding":{"text":{"field":"t"}}},
{"data":{"values":[{"t":"diabatic","lat":62.7,"p":538}]},"mark":{"type":"text","fontSize":51,"fontWeight":"bold","color":"#000"},"encoding":{"text":{"field":"t"}}},
{"data":{"values":[{"t":"N→","lat":52.7,"p":1210}]},"mark":{"type":"text","fontSize":43,"color":"#000"},"encoding":{"text":{"field":"t"}}}
]}
],"spacing":54,"bounds":"flush"},
{"hconcat":[
{"vconcat":[
{"width":520,"height":276,"encoding":{"x":{"field":"lat","type":"quantitative","title":null,"scale":{"domain":[25,55]},"axis":null},"y":{"field":"p","type":"quantitative","title":null,"scale":{"domain":[100,1000],"reverse":true},"axis":{"values":[200,400,600,800,1000],"format":"d"}}},
"layer":[
{"data":{"name":"b"},"mark":{"type":"line","filled":true,"clip":true,"interpolate":"cardinal-closed","tension":0.65},"encoding":{"detail":{"field":"g"},"order":{"value":null},"color":{"field":"v","type":"ordinal","legend":null,"scale":{"domain":[-1.8,-1.6,-1.4,-1.2,-1,-0.8,-0.6,-0.4,-0.2,0,0.2,0.4,0.6,0.8,1,1.2,1.4,1.6,1.8],"range":["#000040","#001070","#0020A0","#0050FF","#0080FF","#00AAFF","#00D5FF","#55FFFF","#AAFFFF","#FFFFFF","#FFFFAA","#FFFF55","#FFD500","#FFAA00","#FF8000","#FF5500","#C83200","#801000","#400000"]}}}},
{"data":{"name":"dash"},"mark":{"type":"rule","strokeDash":[4,4],"color":"#222","strokeWidth":1.4},"encoding":{"x2":{"field":"lat2"},"y2":{"field":"p2"}}},
{"data":{"name":"ticks"},"mark":{"type":"rule","color":"#444","strokeWidth":1.5},"encoding":{"x2":{"field":"lat2"},"y2":{"field":"p2"}}},
{"data":{"name":"box"},"mark":{"type":"rect","filled":false,"stroke":"#555","strokeWidth":2},"encoding":{"x2":{"field":"lat2"},"y2":{"field":"p2"}}},
{"data":{"values":[{"t":"b) Horizontal (I–IV)","lat":38.4,"p":38}]},"mark":{"type":"text","fontSize":36,"color":"#333"},"encoding":{"text":{"field":"t"}}},
{"data":{"values":[{"t":"+25%","lat":39.5,"p":791}]},"mark":{"type":"text","fontSize":52,"fontWeight":"bold","color":"#000"},"encoding":{"text":{"field":"t"}}}
]},
{"width":520,"height":276,"encoding":{"x":{"field":"lat","type":"quantitative","title":null,"scale":{"domain":[25,55]},"axis":null},"y":{"field":"p","type":"quantitative","title":null,"scale":{"domain":[100,1000],"reverse":true},"axis":{"values":[200,400,600,800,1000],"format":"d"}}},
"layer":[
{"data":{"name":"d"},"mark":{"type":"line","filled":true,"clip":true,"interpolate":"cardinal-closed","tension":0.65},"encoding":{"detail":{"field":"g"},"order":{"value":null},"color":{"field":"v","type":"ordinal","legend":null,"scale":{"domain":[-1.8,-1.6,-1.4,-1.2,-1,-0.8,-0.6,-0.4,-0.2,0,0.2,0.4,0.6,0.8,1,1.2,1.4,1.6,1.8],"range":["#000040","#001070","#0020A0","#0050FF","#0080FF","#00AAFF","#00D5FF","#55FFFF","#AAFFFF","#FFFFFF","#FFFFAA","#FFFF55","#FFD500","#FFAA00","#FF8000","#FF5500","#C83200","#801000","#400000"]}}}},
{"data":{"name":"dash"},"mark":{"type":"rule","strokeDash":[4,4],"color":"#222","strokeWidth":1.4},"encoding":{"x2":{"field":"lat2"},"y2":{"field":"p2"}}},
{"data":{"name":"ticks"},"mark":{"type":"rule","color":"#444","strokeWidth":1.5},"encoding":{"x2":{"field":"lat2"},"y2":{"field":"p2"}}},
{"data":{"name":"box"},"mark":{"type":"rect","filled":false,"stroke":"#555","strokeWidth":2},"encoding":{"x2":{"field":"lat2"},"y2":{"field":"p2"}}},
{"data":{"values":[{"t":"d) Vertical (V–VI)","lat":38.5,"p":32}]},"mark":{"type":"text","fontSize":36,"color":"#333"},"encoding":{"text":{"field":"t"}}},
{"data":{"values":[{"t":"LR","lat":59,"p":530}]},"mark":{"type":"text","fontSize":71,"fontWeight":"bold","color":"#000"},"encoding":{"text":{"field":"t"}}}
]},
{"width":520,"height":276,"encoding":{"x":{"field":"lat","type":"quantitative","title":null,"scale":{"domain":[25,55]},"axis":{"values":[25,30,35,40,45,50,55],"format":"d","labelFontSize":35,"labelPadding":12,"labelFlush":false}},"y":{"field":"p","type":"quantitative","title":null,"scale":{"domain":[100,1000],"reverse":true},"axis":{"values":[200,400,600,800,1000],"format":"d"}}},
"layer":[
{"data":{"name":"f"},"mark":{"type":"line","filled":true,"clip":true,"interpolate":"cardinal-closed","tension":0.65},"encoding":{"detail":{"field":"g"},"order":{"value":null},"color":{"field":"v","type":"ordinal","legend":null,"scale":{"domain":[-1.8,-1.6,-1.4,-1.2,-1,-0.8,-0.6,-0.4,-0.2,0,0.2,0.4,0.6,0.8,1,1.2,1.4,1.6,1.8],"range":["#000040","#001070","#0020A0","#0050FF","#0080FF","#00AAFF","#00D5FF","#55FFFF","#AAFFFF","#FFFFFF","#FFFFAA","#FFFF55","#FFD500","#FFAA00","#FF8000","#FF5500","#C83200","#801000","#400000"]}}}},
{"data":{"name":"dash"},"mark":{"type":"rule","strokeDash":[4,4],"color":"#222","strokeWidth":1.4},"encoding":{"x2":{"field":"lat2"},"y2":{"field":"p2"}}},
{"data":{"name":"ticks"},"mark":{"type":"rule","color":"#444","strokeWidth":1.5},"encoding":{"x2":{"field":"lat2"},"y2":{"field":"p2"}}},
{"data":{"name":"box"},"mark":{"type":"rect","filled":false,"stroke":"#555","strokeWidth":2},"encoding":{"x2":{"field":"lat2"},"y2":{"field":"p2"}}},
{"data":{"values":[{"t":"f) Q","lat":36,"p":2},{"t":"Latitude","lat":41,"p":1166}]},"mark":{"type":"text","fontSize":36,"color":"#333"},"encoding":{"text":{"field":"t"}}},
{"data":{"values":[{"t":"DIAB","lat":39.2,"p":54}]},"mark":{"type":"text","fontSize":22,"color":"#333"},"encoding":{"text":{"field":"t"}}},
{"data":{"values":[{"t":"+20%","lat":39.5,"p":877}]},"mark":{"type":"text","fontSize":52,"fontWeight":"bold","color":"#000"},"encoding":{"text":{"field":"t"}}},
{"data":{"values":[{"t":"N→","lat":53,"p":1199}]},"mark":{"type":"text","fontSize":43,"color":"#000"},"encoding":{"text":{"field":"t"}}},
{"data":{"values":[{"lat":68.6,"p":1271}]},"mark":{"type":"point","size":1,"opacity":0}}
]}
],"spacing":54,"bounds":"flush"},
{"width":23,"height":800,"layer":[
{"data":{"name":"bar"},"mark":{"type":"rect"},"encoding":{"x":{"datum":0,"type":"quantitative","title":null,"scale":{"domain":[0,1]},"axis":null},"x2":{"datum":1},"y":{"field":"hi","type":"quantitative","title":null,"scale":{"domain":[-2,2],"range":[800,150]},"axis":{"orient":"right","values":[2,1.6,1.2,0.8,0.4,0,-0.4,-0.8,-1.2,-1.6,-2],"format":"~g","labelFontSize":30,"labelPadding":6}},"y2":{"field":"lo"},"color":{"field":"v","type":"ordinal","legend":null,"scale":{"domain":[-1.8,-1.6,-1.4,-1.2,-1,-0.8,-0.6,-0.4,-0.2,0,0.2,0.4,0.6,0.8,1,1.2,1.4,1.6,1.8],"range":["#000040","#001070","#0020A0","#0050FF","#0080FF","#00AAFF","#00D5FF","#55FFFF","#AAFFFF","#FFFFFF","#FFFFAA","#FFFF55","#FFD500","#FFAA00","#FF8000","#FF5500","#C83200","#801000","#400000"]}}}},
{"data":{"name":"bart"},"mark":{"type":"rule","strokeDash":[6,11,6],"color":"#333","strokeWidth":1.2},"encoding":{"x":{"datum":0,"type":"quantitative"},"x2":{"datum":1},"y":{"field":"t","type":"quantitative"}}},
{"data":{"values":[{"lo":-2,"hi":2}]},"mark":{"type":"rect","filled":false,"stroke":"#777","strokeWidth":1.5},"encoding":{"x":{"datum":0,"type":"quantitative"},"x2":{"datum":1},"y":{"field":"hi","type":"quantitative"},"y2":{"field":"lo"}}},
{"data":{"values":[{"t":"ºC day⁻¹"}]},"mark":{"type":"text","font":"Liberation Sans","fontSize":36,"color":"#111"},"encoding":{"text":{"field":"t"},"x":{"datum":1.09,"type":"quantitative"},"y":{"datum":2.31,"type":"quantitative"}}}
]}
],"spacing":661,"bounds":"flush"}
],"spacing":855,"bounds":"flush"}
